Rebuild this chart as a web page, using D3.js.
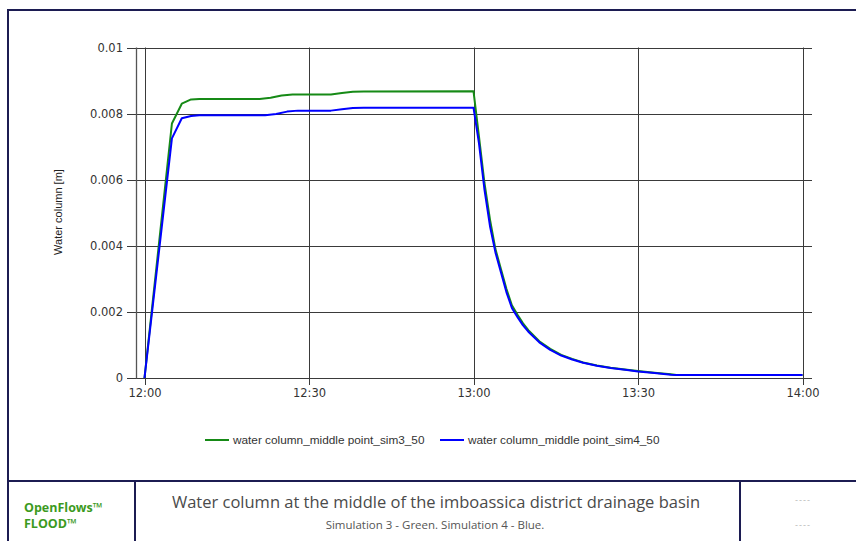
<!DOCTYPE html>
<html>
<head>
<meta charset="utf-8">
<script src="https://cdn.jsdelivr.net/npm/d3@7"></script>
<style>
  html, body { margin: 0; padding: 0; background: #fff; }
  svg { display: block; }
</style>
</head>
<body>
<svg id="chart" width="856" height="541"></svg>
<script>
// ---- data ----
const xTickMinutes = [0, 30, 60, 90, 120];
const xTickLabels = ["12:00", "12:30", "13:00", "13:30", "14:00"];
const yTicks = [0, 0.002, 0.004, 0.006, 0.008, 0.01];
const yTickLabels = ["0", "0.002", "0.004", "0.006", "0.008", "0.01"];

const seriesNames = ["water column_middle point_sim3_50", "water column_middle point_sim4_50"];
const seriesColors = ["#168a16", "#0000ff"];

// minutes after 12:00
const sim3Minutes = [0, 5, 6.8, 8.5, 10, 21, 23, 25, 27, 34, 36, 38, 40, 60, 61, 62, 63, 64, 65, 66, 67, 68, 69, 70, 72, 74, 76, 78, 80, 82.5, 85, 88, 90, 93, 96, 97, 120];
const sim3Values = [0, 0.0077, 0.0083, 0.00843, 0.00844, 0.00844, 0.00848, 0.00855, 0.00858, 0.00858, 0.00862, 0.00866, 0.00867, 0.00868, 0.0073, 0.0059, 0.0048, 0.0039, 0.0033, 0.0027, 0.0022, 0.00192, 0.00166, 0.00145, 0.00111, 0.00088, 0.0007, 0.00058, 0.00047, 0.00038, 0.00031, 0.00025, 0.00021, 0.00016, 0.00011, 0.00009, 0.00009];

const sim4Minutes = [0, 5, 6.8, 8.5, 10, 22, 24, 26, 28, 34, 36, 38, 40, 60, 61, 62, 63, 64, 65, 66, 67, 68, 69, 70, 72, 74, 76, 78, 80, 82.5, 85, 88, 90, 93, 96, 97, 120];
const sim4Values = [0, 0.00725, 0.00786, 0.00793, 0.00795, 0.00795, 0.00799, 0.00806, 0.00809, 0.00809, 0.00813, 0.00817, 0.00818, 0.00818, 0.0071, 0.0057, 0.0046, 0.0038, 0.0032, 0.0026, 0.00212, 0.00185, 0.0016, 0.0014, 0.00108, 0.00085, 0.00068, 0.00056, 0.00046, 0.00037, 0.0003, 0.00024, 0.0002, 0.00015, 0.0001, 0.00009, 0.00009];

const titleText = "Water column at the middle of the imboassica district drainage basin";
const subtitleText = "Simulation 3 - Green. Simulation 4 - Blue.";
const brandLines = ["OpenFlows\u2122", "FLOOD\u2122"];
const yAxisTitle = "Water column [m]";

// ---- drawing ----
const svg = d3.select("#chart");
const frameColor = "#1c1c52";

const x = d3.scaleLinear().domain([0, 120]).range([144.5, 802.5]);
const y = d3.scaleLinear().domain([0, 0.01]).range([378, 47.5]);

const gridColor = "#3a3a3a";
const g = svg.append("g");

g.append("g").attr("transform", "translate(127,0)")
  .call(d3.axisLeft(y).tickValues(yTicks).tickSize(0).tickFormat((d, i) => yTickLabels[i]).tickPadding(4))
  .call(s => s.select(".domain").remove())
  .call(s => s.selectAll("text").attr("fill", "#333").style("font-family", "'DejaVu Sans', sans-serif").style("font-size", "11.5px"));

g.append("g").selectAll("line").data(yTicks).join("line")
  .attr("x1", 127).attr("x2", 812)
  .attr("y1", d => Math.round(y(d)) + 0.5).attr("y2", d => Math.round(y(d)) + 0.5)
  .attr("stroke", gridColor).attr("stroke-width", 1);

g.append("g").selectAll("line").data(xTickMinutes).join("line")
  .attr("x1", d => Math.round(x(d)) + 0.5).attr("x2", d => Math.round(x(d)) + 0.5)
  .attr("y1", y(0.01)).attr("y2", 385)
  .attr("stroke", gridColor).attr("stroke-width", 1);

g.append("line").attr("x1", 136.5).attr("x2", 136.5).attr("y1", y(0.01)).attr("y2", 378.5)
  .attr("stroke", "#555").attr("stroke-width", 1.3);

g.append("g").attr("transform", "translate(0,385)")
  .call(d3.axisBottom(x).tickValues(xTickMinutes).tickSize(0).tickPadding(4).tickFormat((d, i) => xTickLabels[i]))
  .call(s => s.select(".domain").remove())
  .call(s => s.selectAll("text").attr("fill", "#333").style("font-family", "'DejaVu Sans', sans-serif").style("font-size", "11.5px"));

svg.append("text")
  .attr("transform", "translate(62,212) rotate(-90)")
  .attr("text-anchor", "middle")
  .attr("fill", "#222")
  .style("font-family", "'Liberation Sans', Arial, sans-serif")
  .style("font-size", "11px")
  .text(yAxisTitle);

const line = d3.line().x(d => x(d[0])).y(d => y(d[1]));
const series = [
  d3.zip(sim3Minutes, sim3Values),
  d3.zip(sim4Minutes, sim4Values)
];
svg.append("g").selectAll("path").data(series).join("path")
  .attr("d", line)
  .attr("fill", "none")
  .attr("stroke", (d, i) => seriesColors[i])
  .attr("stroke-width", 2)
  .attr("stroke-linejoin", "round");

const legend = svg.append("g").attr("transform", "translate(0,440)");
const legendX = [205, 440];
seriesNames.forEach((name, i) => {
  legend.append("line").attr("x1", legendX[i]).attr("x2", legendX[i] + 24)
    .attr("y1", 0).attr("y2", 0).attr("stroke", seriesColors[i]).attr("stroke-width", 2);
  legend.append("text").attr("x", legendX[i] + 28).attr("y", 4)
    .attr("fill", "#333")
    .style("font-family", "'Liberation Sans', Arial, sans-serif")
    .style("font-size", "11.8px")
    .text(name);
});

const frame = svg.append("g").attr("fill", "none").attr("stroke", frameColor).attr("stroke-width", 2);
frame.append("path").attr("d", "M8,541 V10 H856");
frame.append("line").attr("x1", 8).attr("x2", 856).attr("y1", 481).attr("y2", 481);
frame.append("line").attr("x1", 135).attr("x2", 135).attr("y1", 481).attr("y2", 541);
frame.append("line").attr("x1", 740).attr("x2", 740).attr("y1", 481).attr("y2", 541);

brandLines.forEach((t, i) => {
  svg.append("text").attr("x", 24).attr("y", 512 + i * 16)
    .attr("fill", "#3c9a1e")
    .style("font-family", "'Open Sans', sans-serif")
    .style("font-weight", "bold")
    .style("font-size", "12.5px")
    .text(t);
});
svg.append("text").attr("x", 436).attr("y", 508)
  .attr("text-anchor", "middle").attr("fill", "#4a4a4a")
  .style("font-family", "'Open Sans', sans-serif")
  .style("font-size", "16.5px")
  .text(titleText);
svg.append("text").attr("x", 435).attr("y", 529)
  .attr("text-anchor", "middle").attr("fill", "#555")
  .style("font-family", "'Open Sans', sans-serif")
  .style("font-size", "11.5px")
  .text(subtitleText);
["----", "----"].forEach((t, i) => {
  svg.append("text").attr("x", 803).attr("y", 503 + i * 25)
    .attr("text-anchor", "middle").attr("fill", "#bbb")
    .style("font-family", "'Liberation Sans', sans-serif")
    .style("font-size", "9px")
    .style("letter-spacing", "1px")
    .text(t);
});
</script>
</body>
</html>
